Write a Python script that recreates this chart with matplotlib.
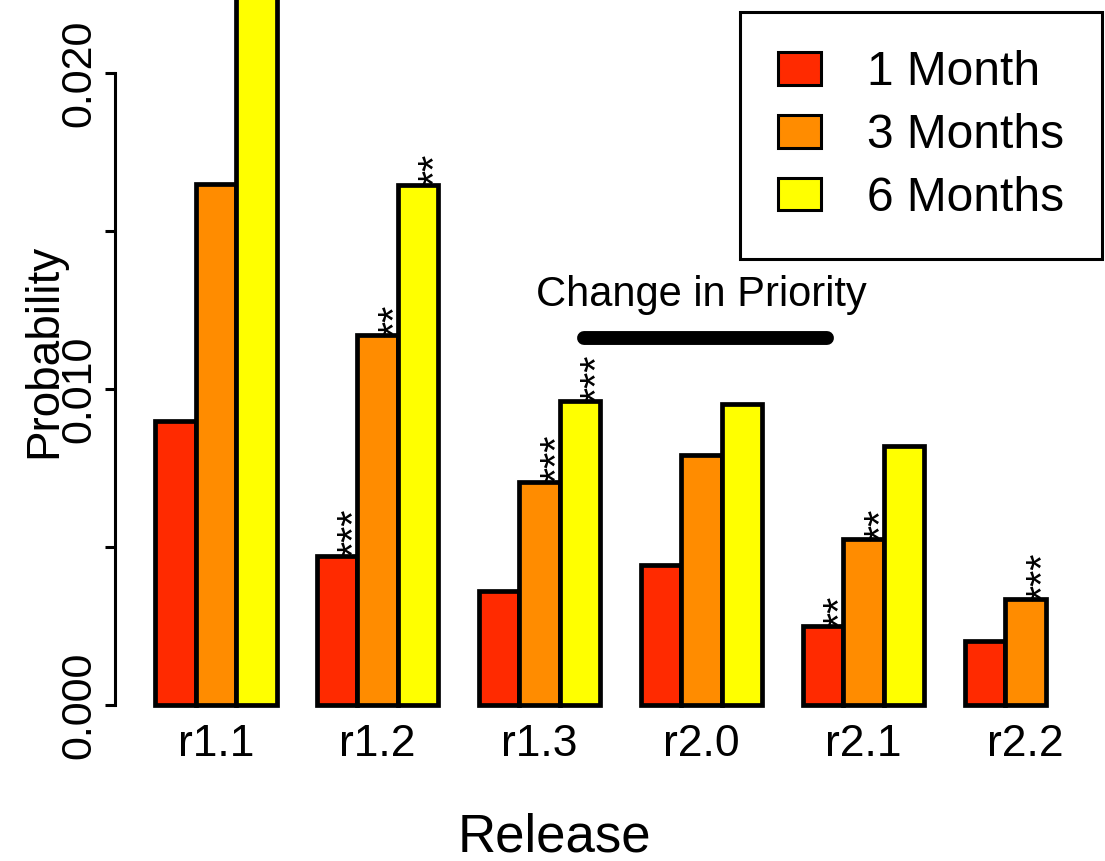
import numpy as np
import matplotlib
matplotlib.use('Agg')
import matplotlib.pyplot as plt
from matplotlib.patches import Patch

plt.rcParams['font.family'] = ['Liberation Sans', 'DejaVu Sans']

releases = ['r1.1', 'r1.2', 'r1.3', 'r2.0', 'r2.1', 'r2.2']
series = ['1 Month', '3 Months', '6 Months']
colors = ['#FF2A00', '#FF8C00', '#FFFF00']

month1 = [0.00899, 0.00472, 0.00361, 0.00443, 0.00250, 0.00203]
month3 = [0.01649, 0.01171, 0.00706, 0.00791, 0.00525, 0.00335]
month6 = [0.02350, 0.01646, 0.00962, 0.00953, 0.00820, np.nan]

# significance stars per release (1 month, 3 months, 6 months)
stars1 = ['', '***', '', '', '**', '']
stars3 = ['', '**', '***', '', '**', '***']
stars6 = ['', '**', '***', '', '', '']

fig = plt.figure(figsize=(11.05, 8.61), dpi=100)
ax = fig.add_axes([115 / 1105, 156 / 861, 990 / 1105, 705 / 861])

# R barplot style: 3 bars of width 1 per group, 1 unit gap
group_x = np.arange(len(releases)) * 4 + 1
values = [month1, month3, month6]
stars = [stars1, stars3, stars6]
for j in range(3):
    for i in range(len(releases)):
        v = values[j][i]
        if np.isnan(v):
            continue
        left = group_x[i] + j
        ax.bar(left, v, width=1, align='edge', color=colors[j],
               edgecolor='black', linewidth=3.4, clip_on=False)
        if stars[j][i]:
            ax.text(left + 1.23, v - 0.00005, stars[j][i], rotation=90,
                    rotation_mode='anchor', ha='left', va='baseline',
                    fontsize=30)

ax.set_xlim(0.0123, 24.457)
ax.set_ylim(0, 705 / 31600)

for s in ['top', 'right', 'bottom']:
    ax.spines[s].set_visible(False)
ax.spines['left'].set_bounds(0, 0.02)
ax.spines['left'].set_linewidth(2.2)

ax.set_yticks([0, 0.005, 0.010, 0.015, 0.020])
ax.set_yticklabels(['0.000', '', '0.010', '', '0.020'], rotation=90,
                   va='center', fontsize=31)
ax.tick_params(axis='y', length=7.2, width=2.2, pad=4)

ax.set_xticks(group_x + 1.5)
ax.set_xticklabels(releases, fontsize=32)
ax.tick_params(axis='x', length=0, pad=14)

# priority change marker
ax.plot([11.6, 17.6], [0.01161, 0.01161], color='black', linewidth=10,
        solid_capstyle='round')
ax.text(14.5, 0.01297, 'Change in Priority', ha='center', va='center',
        fontsize=30)

fig.text(44 / 1105, 1 - 351 / 861, 'Probability', rotation=90,
         ha='center', va='center', fontsize=33)
fig.text(554 / 1105, 1 - 838 / 861, 'Release', ha='center', va='center',
         fontsize=38)

handles = [Patch(facecolor=c, edgecolor='black', linewidth=2.2) for c in colors]
leg = fig.legend(handles, series, loc='upper right',
                 bbox_to_anchor=(1102 / 1105, 1 - 12 / 861),
                 fontsize=34.5, frameon=True, fancybox=False, framealpha=1,
                 borderaxespad=0, borderpad=0.8, handlelength=0.9,
                 handleheight=0.68, handletextpad=0.95, labelspacing=0.37)
leg.get_frame().set_edgecolor('black')
leg.get_frame().set_linewidth(2.2)

fig.savefig('out.png', dpi=100)
